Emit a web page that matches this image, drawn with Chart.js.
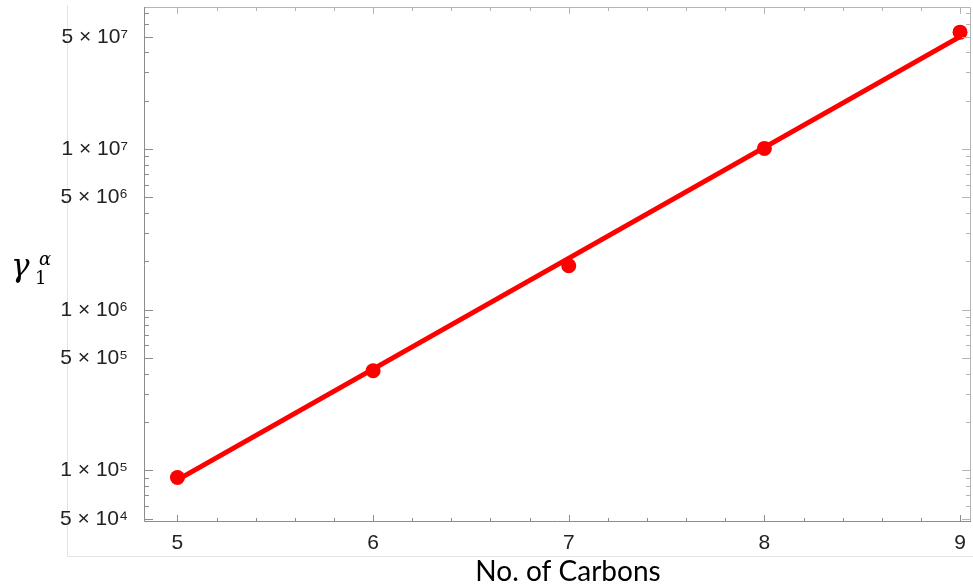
<!DOCTYPE html>
<html>
<head>
<meta charset="utf-8">
<script src="https://cdn.jsdelivr.net/npm/chart.js@4/dist/chart.umd.min.js"></script>
<style>
  html, body { margin: 0; padding: 0; background: #fff; }
  #wrap { width: 973px; height: 586px; }
</style>
</head>
<body>
<div id="wrap"><canvas id="chart"></canvas></div>
<script>
// measured points
const carbons = [5, 6, 7, 8, 9];
const gamma = [9.02e4, 4.17e5, 1.88e6, 1.01e7, 5.35e7];

// fitted line (end points)
const fitCarbons = [5, 9];
const fitGamma = [8.73e4, 5.02e7];

// axes
const xTicks = [5, 6, 7, 8, 9];
const yTicks = [5e4, 1e5, 5e5, 1e6, 5e6, 1e7, 5e7];
const yTickLabels = ['5 × 10⁴', '1 × 10⁵', '5 × 10⁵', '1 × 10⁶', '5 × 10⁶', '1 × 10⁷', '5 × 10⁷'];
const yMin = 4.77e4, yMax = 7.67e7;

const frame = {
  id: 'frame',
  beforeDraw(chart) {
    const c = chart.ctx;
    c.save();
    // faint picture border
    c.strokeStyle = '#e4e4e4';
    c.lineWidth = 1;
    c.beginPath();
    c.moveTo(67.5, 5);
    c.lineTo(67.5, 556.5);
    c.lineTo(973, 556.5);
    c.stroke();
    c.restore();
  },
  afterDatasetsDraw(chart) {
    const c = chart.ctx;
    const a = chart.chartArea;
    const xs = chart.scales.x, ys = chart.scales.y;
    c.save();
    c.lineWidth = 1;
    // top and right frame
    c.strokeStyle = '#b4b4b4';
    c.beginPath();
    c.moveTo(a.left, a.top + 0.5);
    c.lineTo(a.right - 0.5, a.top + 0.5);
    c.lineTo(a.right - 0.5, a.bottom);
    c.stroke();
    // ticks on y (left and right)
    for (let d = 4; d <= 7; d++) {
      for (let m = 1; m <= 9; m++) {
        const v = m * Math.pow(10, d);
        if (v < ys.min || v > ys.max) continue;
        const y = Math.round(ys.getPixelForValue(v)) + 0.5;
        const len = yTicks.includes(v) ? 9 : 5;
        c.strokeStyle = '#8c8c8c';
        c.beginPath(); c.moveTo(a.left, y); c.lineTo(a.left + len, y); c.stroke();
        c.strokeStyle = '#b4b4b4';
        c.beginPath(); c.moveTo(a.right, y); c.lineTo(a.right - len, y); c.stroke();
      }
    }
    // ticks on x (bottom and top)
    for (let i = 0; i <= 25; i++) {
      const v = 4.8 + i * 0.2;
      if (v < xs.min || v > xs.max) continue;
      const x = Math.round(xs.getPixelForValue(v)) + 0.5;
      const major = Math.abs(v - Math.round(v)) < 1e-6;
      const len = major ? 7 : 4;
      c.strokeStyle = '#8c8c8c';
      c.beginPath(); c.moveTo(x, a.bottom); c.lineTo(x, a.bottom - len); c.stroke();
      c.strokeStyle = '#b4b4b4';
      c.beginPath(); c.moveTo(x, a.top); c.lineTo(x, a.top + len); c.stroke();
    }
    // left and bottom axis lines
    c.strokeStyle = '#8c8c8c';
    c.beginPath();
    c.moveTo(a.left + 0.5, a.top);
    c.lineTo(a.left + 0.5, a.bottom - 0.5);
    c.lineTo(a.right, a.bottom - 0.5);
    c.stroke();
    c.restore();
  },
  afterDraw(chart) {
    const c = chart.ctx;
    c.save();
    c.fillStyle = '#000';
    c.textBaseline = 'alphabetic';
    // x title
    c.font = '28px Lato, "Open Sans", sans-serif';
    c.textAlign = 'center';
    c.fillText('No. of Carbons', 568, 581);
    // y title: gamma with sub 1 and super alpha
    c.textAlign = 'left';
    c.font = 'italic 31px "DejaVu Serif", serif';
    c.fillText('γ', 11, 276);
    c.font = '18px "DejaVu Serif", serif';
    c.fillText('1', 35, 284);
    c.font = 'italic 18px "DejaVu Serif", serif';
    c.fillText('α', 39, 265);
    c.restore();
  }
};

const tickFont = { family: '"Liberation Sans", Arial, sans-serif', size: 21 };

new Chart(document.getElementById('chart'), {
  type: 'scatter',
  data: {
    datasets: [
      {
        label: 'fit',
        data: fitCarbons.map((x, i) => ({ x: x, y: fitGamma[i] })),
        showLine: true,
        borderColor: '#ff0000',
        borderWidth: 5,
        pointRadius: 0,
        fill: false
      },
      {
        label: 'data',
        data: carbons.map((x, i) => ({ x: x, y: gamma[i] })),
        backgroundColor: '#ff0000',
        borderWidth: 0,
        pointRadius: 7.5
      }
    ]
  },
  options: {
    responsive: true,
    maintainAspectRatio: false,
    animation: false,
    layout: { padding: { left: 0, right: 2, top: 7, bottom: 0 }, autoPadding: false },
    plugins: { legend: { display: false }, tooltip: { enabled: false } },
    scales: {
      x: {
        type: 'linear',
        bounds: 'data',
        min: 4.829,
        max: 9.056,
        grid: { display: false, drawTicks: false },
        border: { display: false },
        afterBuildTicks: s => { s.ticks = xTicks.map(v => ({ value: v })); },
        afterFit: s => { s.height = 64; s.paddingLeft = 0; s.paddingRight = 0; },
        ticks: { color: '#222', font: tickFont, padding: 9, maxRotation: 0 }
      },
      y: {
        type: 'logarithmic',
        bounds: 'data',
        min: yMin,
        max: yMax,
        grid: { display: false, drawTicks: false },
        border: { display: false },
        afterBuildTicks: s => { s.ticks = yTicks.map(v => ({ value: v })); },
        afterFit: s => { s.width = 144; s.paddingTop = 0; s.paddingBottom = 0; },
        ticks: {
          color: '#222',
          font: tickFont,
          padding: 16,
          callback: v => yTickLabels[yTicks.indexOf(v)]
        }
      }
    }
  },
  plugins: [frame]
});
</script>
</body>
</html>
